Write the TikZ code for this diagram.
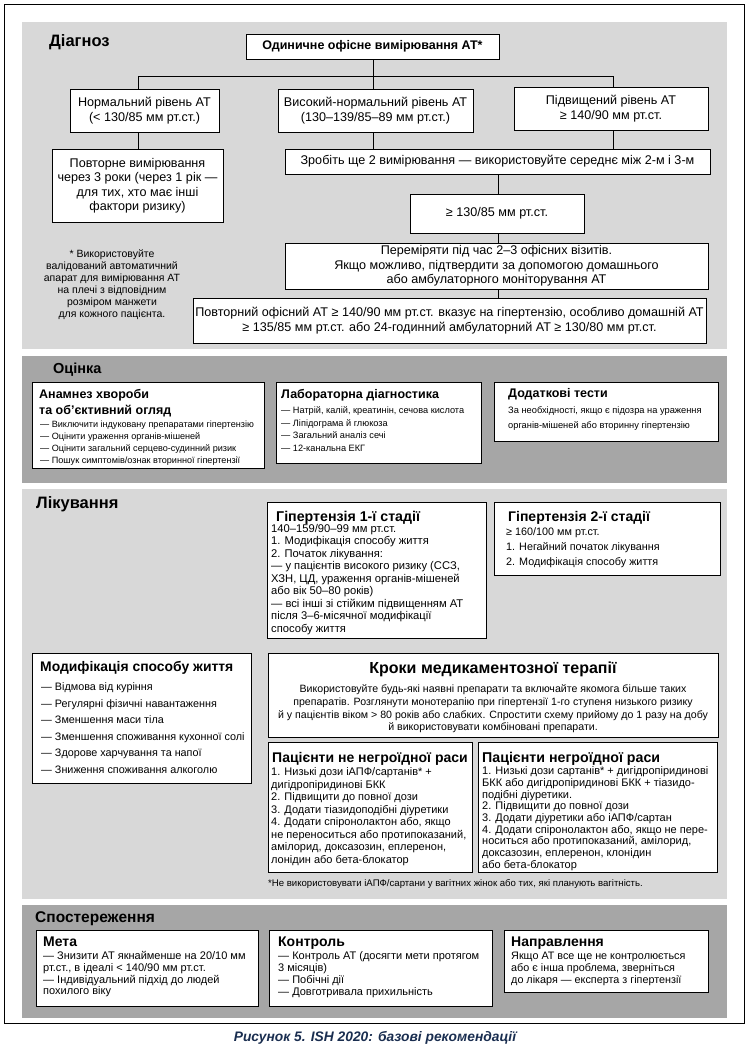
\documentclass[tikz,border=0pt]{standalone}
\usepackage{fontspec}
\setmainfont{Liberation Sans}
\definecolor{panellight}{RGB}{216,216,216}
\definecolor{paneldark}{RGB}{166,166,166}
\definecolor{capblue}{RGB}{26,46,80}
\newcommand\tl[6]{\node[anchor=north west,inner sep=0pt,align=left,font={\fontsize{#4}{#5}\selectfont\lineskiplimit=-50pt}] (#1) at (#2,{#3-0.7*#5}) {\strut #6};}
\newcommand\tb[6]{\node[anchor=north west,inner sep=0pt,align=left,font={\bfseries\fontsize{#4}{#5}\selectfont\lineskiplimit=-50pt}] (#1) at (#2,{#3-0.7*#5}) {\strut #6};}
\newcommand\tc[6]{\node[anchor=north,inner sep=0pt,align=center,font={\fontsize{#4}{#5}\selectfont\lineskiplimit=-50pt}] (#1) at (#2,{#3-0.7*#5}) {\strut #6};}
\begin{document}
\begin{tikzpicture}[x=1pt,y=-1pt,
  bx/.style={draw=black,line width=1pt,fill=white,inner sep=0pt,outer sep=0pt,anchor=north west,align=center,font={\fontsize{12.6}{14.5}\selectfont\lineskiplimit=-50pt}},
  conn/.style={draw=black,line width=0.9pt}]
\useasboundingbox (0,0) rectangle (749,1052);
% frame and panels
\draw[line width=1pt] (4,4) rectangle (744,1023);
\fill[panellight] (22,22) rectangle (727,349);
\fill[paneldark] (22,356) rectangle (727,483);
\fill[panellight] (22,489) rectangle (727,899);
\fill[paneldark] (22,905) rectangle (727,1018);

% ---------- Diagnosis ----------
\tb{tDiag}{49}{46}{16.5}{19}{Діагноз}
\node[bx,minimum width=253,minimum height=25,font=\bfseries\fontsize{12.5}{14}\selectfont] (top) at (246,34) {Одиничне офісне вимірювання АТ*};
\node[bx,minimum width=149,minimum height=43] (norm) at (70,89) {Нормальний рівень АТ\\(< 130/85 мм рт.ст.)};
\node[bx,minimum width=195,minimum height=43] (vys) at (278,89) {Високий-нормальний рівень АТ\\(130–139/85–89 мм рт.ст.)};
\node[bx,minimum width=194,minimum height=43] (pidv) at (514,87) {Підвищений рівень АТ\\≥ 140/90 мм рт.ст.};
\node[bx,minimum width=171,minimum height=73] (povt) at (52,149) {Повторне вимірювання\\через 3 роки (через 1 рік —\\для тих, хто має інші\\фактори ризику)};
\node[bx,minimum width=425,minimum height=25] (zrob) at (285,149) {Зробіть ще 2 вимірювання — використовуйте середнє між 2-м і 3-м};
\node[bx,minimum width=174,minimum height=39] (ge) at (410,194) {≥ 130/85 мм рт.ст.};
\node[bx,minimum width=423,minimum height=46] (perem) at (285,243) {Переміряти під час 2–3 офісних візитів.\\Якщо можливо, підтвердити за допомогою домашнього\\або амбулаторного моніторування АТ};
\node[bx,minimum width=513,minimum height=45] (povtor) at (193,298) {Повторний офісний АТ ≥ 140/90 мм рт.ст. вказує на гіпертензію, особливо домашній АТ\\≥ 135/85 мм рт.ст. або 24-годинний амбулаторний АТ ≥ 130/80 мм рт.ст.};
\tc{fn}{112}{257}{10.5}{12}{* Використовуйте\\валідований автоматичний\\апарат для вимірювання АТ\\на плечі з відповідним\\розміром манжети\\для кожного пацієнта.}
% connectors
\coordinate (hl) at (138,76);
\coordinate (hr) at (613,76);
\coordinate (vm) at (373,76);
\coordinate (vd) at (498,76);
\draw[conn] (top.south -| vm) -- (vys.north -| vm);
\draw[conn] (norm.north -| hl) -- (hl) -- (hr) -- (pidv.north -| hr);
\draw[conn] (norm.south -| hl) -- (povt.north -| hl);
\draw[conn] (vys.south -| vm) -- (zrob.north -| vm);
\draw[conn] (pidv.south -| hr) -- (zrob.north -| hr);
\draw[conn] (zrob.south -| vd) -- (ge.north -| vd);
\draw[conn] (ge.south -| vd) -- (perem.north -| vd);
\draw[conn] (perem.south -| vd) -- (povtor.north -| vd);

% ---------- Assessment ----------
\tb{tOc}{53}{373}{14.5}{17}{Оцінка}
\node[bx,minimum width=232,minimum height=86] (anam) at (32,382) {};
\tb{anamH}{39}{398}{12.5}{16}{Анамнез хвороби\\та об'єктивний огляд}
\tl{anamL}{40}{427}{9.1}{12}{— Виключити індуковану препаратами гіпертензію\\— Оцінити ураження органів-мішеней\\— Оцінити загальний серцево-судинний ризик\\— Пошук симптомів/ознак вторинної гіпертензії}
\node[bx,minimum width=205,minimum height=81] (lab) at (276,382) {};
\tb{labH}{281}{398}{12.5}{16}{Лабораторна діагностика}
\tl{labL}{281}{413.5}{9.2}{12.5}{— Натрій, калій, креатинін, сечова кислота\\— Ліпідограма й глюкоза\\— Загальний аналіз сечі\\— 12-канальна ЕКГ}
\node[bx,minimum width=224,minimum height=59] (dod) at (494,382) {};
\tb{dodH}{508}{397}{12.5}{16}{Додаткові тести}
\tl{dodL}{508}{413.5}{9.3}{15}{За необхідності, якщо є підозра на ураження\\органів-мішеней або вторинну гіпертензію}

% ---------- Treatment ----------
\tb{tLik}{36}{508.5}{16.5}{19}{Лікування}
\node[bx,minimum width=219,minimum height=136] (g1) at (267,502) {};
\tb{g1H}{276}{521}{14.2}{15}{Гіпертензія 1-ї стадії}
\tl{g1L}{271}{532}{11.2}{12.5}{140–159/90–99 мм рт.ст.\\1. Модифікація способу життя\\2. Початок лікування:\\— у пацієнтів високого ризику (ССЗ,\\ХЗН, ЦД, ураження органів-мішеней\\або вік 50–80 років)\\— всі інші зі стійким підвищенням АТ\\після 3–6-місячної модифікації\\способу життя}
\node[bx,minimum width=226,minimum height=73] (g2) at (494,502) {};
\tb{g2H}{508}{521}{14}{15}{Гіпертензія 2-ї стадії}
\tl{g2L}{506}{535}{10.8}{15}{≥ 160/100 мм рт.ст.\\1. Негайний початок лікування\\2. Модифікація способу життя}
\node[bx,minimum width=219,minimum height=130] (mod) at (32,653) {};
\tb{modH}{40}{671}{13.9}{16}{Модифікація способу життя}
\tl{modL}{41}{690.5}{10.8}{16.5}{— Відмова від куріння\\— Регулярні фізичні навантаження\\— Зменшення маси тіла\\— Зменшення споживання кухонної солі\\— Здорове харчування та напої\\— Зниження споживання алкоголю}
\node[bx,minimum width=450,minimum height=84] (krok) at (268,653) {};
\node[anchor=base,inner sep=0pt,font=\bfseries\fontsize{16}{18}\selectfont] (krokH) at (493,673.5) {Кроки медикаментозної терапії};
\tc{krokL}{493}{692.5}{10.6}{12.7}{Використовуйте будь-які наявні препарати та включайте якомога більше таких\\препаратів. Розглянути монотерапію при гіпертензії 1-го ступеня низького ризику\\й у пацієнтів віком > 80 років або слабких. Спростити схему прийому до 1 разу на добу\\й використовувати комбіновані препарати.}
\node[bx,minimum width=204,minimum height=130] (nn) at (268,742) {};
\tb{nnH}{272}{762}{14}{15}{Пацієнти не негроїдної раси}
\tl{nnL}{271}{775.5}{11}{12.5}{1. Низькі дози іАПФ/сартанів* +\\дигідропіридинові БКК\\2. Підвищити до повної дози\\3. Додати тіазидоподібні діуретики\\4. Додати спіронолактон або, якщо\\не переноситься або протипоказаний,\\амілорид, доксазозин, еплеренон,\\лонідин або бета-блокатор}
\node[bx,minimum width=239,minimum height=130] (ng) at (478,742) {};
\tb{ngH}{482}{762}{14.2}{15}{Пацієнти негроїдної раси}
\tl{ngL}{482}{774.5}{11}{11.7}{1. Низькі дози сартанів* + дигідропіридинові\\БКК або дигідропіридинові БКК + тіазидо-\\подібні діуретики.\\2. Підвищити до повної дози\\3. Додати діуретики або іАПФ/сартан\\4. Додати спіронолактон або, якщо не пере-\\носиться або протипоказаний, амілорид,\\доксазозин, еплеренон, клонідин\\або бета-блокатор}
\tl{fn2}{268}{886.5}{9.6}{10}{*Не використовувати іАПФ/сартани у вагітних жінок або тих, які планують вагітність.}

% ---------- Follow-up ----------
\tb{tSp}{35}{922}{15.5}{18}{Спостереження}
\node[bx,minimum width=222,minimum height=76] (meta) at (36,930) {};
\tb{metaH}{43}{946}{14}{15}{Мета}
\tl{metaL}{43}{959.5}{11}{11.7}{— Знизити АТ якнайменше на 20/10 мм\\рт.ст., в ідеалі < 140/90 мм рт.ст.\\— Індивідуальний підхід до людей\\похилого віку}
\node[bx,minimum width=223,minimum height=76] (kontr) at (269,930) {};
\tb{kontrH}{278}{946}{14}{15}{Контроль}
\tl{kontrL}{278}{959.5}{11}{12}{— Контроль АТ (досягти мети протягом\\3 місяців)\\— Побічні дії\\— Довготривала прихильність}
\node[bx,minimum width=204,minimum height=62] (napr) at (504,930) {};
\tb{naprH}{511}{946}{14}{15}{Направлення}
\tl{naprL}{511}{959.5}{10.8}{11.7}{Якщо АТ все ще не контролюється\\або є інша проблема, зверніться\\до лікаря — експерта з гіпертензії}

\node[anchor=center,inner sep=0pt,text=capblue,font=\bfseries\itshape\fontsize{13.8}{16}\selectfont] (cap) at (375,1038) {Рисунок 5. ISH 2020: базові рекомендації};
\end{tikzpicture}
\end{document}
